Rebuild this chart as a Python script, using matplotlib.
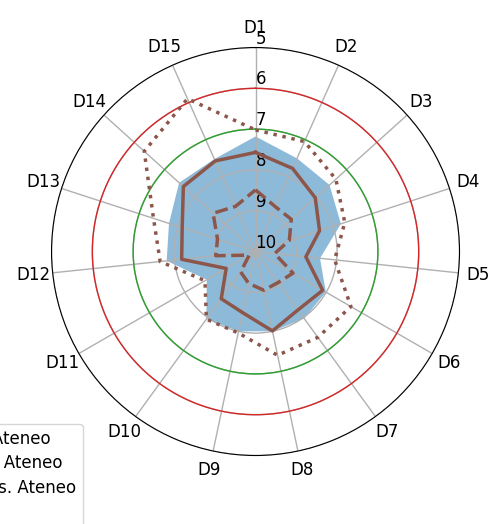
import numpy as np
import matplotlib
matplotlib.use("Agg")
import matplotlib.pyplot as plt

# dimensions, clockwise from the top
categories = [f"D{i}" for i in range(1, 16)]

# ranks (10 = centre, 5 = outer ring)
area_ateneo = [7.18, 7.50, 7.56, 7.80, 8.41, 8.01, 7.97, 8.00, 8.00, 7.95, 8.62, 7.81, 7.77, 7.48, 7.52]
mean_ateneo = [7.57, 7.77, 8.03, 8.35, 8.76, 8.10, 8.23, 8.01, 8.47, 8.57, 9.17, 8.18, 8.11, 7.62, 7.57]
target_ateneo = [8.49, 8.80, 8.82, 9.13, 9.53, 8.94, 9.06, 9.03, 9.20, 9.38, 9.82, 9.02, 9.02, 8.60, 8.79]
avg_vs_ateneo = [7.02, 7.05, 7.35, 7.70, 8.05, 7.30, 7.40, 7.40, 7.96, 7.95, 8.57, 7.65, 7.37, 6.33, 5.90]

r_ticks = [5, 6, 7, 8, 9, 10]
red_level = 6
green_level = 7

BROWN = "#8c564b"


def closed(vals):
    return list(vals) + [vals[0]]


angles = np.linspace(0, 2 * np.pi, len(categories), endpoint=False)
angles_c = closed(list(angles))

fig = plt.figure(figsize=(4.93, 5.24), dpi=100)
ax = fig.add_axes([0.1045, 0.1307, 0.8276, 0.7786], projection="polar")
ax.set_theta_zero_location("N")
ax.set_theta_direction(-1)

full = np.linspace(0, 2 * np.pi, 300)
ax.plot(full, np.full_like(full, red_level), color="tab:red", lw=1)
ax.plot(full, np.full_like(full, green_level), color="tab:green", lw=1)

fill = ax.fill(angles_c, closed(area_ateneo), color="tab:blue", alpha=0.5, lw=0)[0]
l1, = ax.plot(angles_c, closed(mean_ateneo), color=BROWN, lw=2.5, ls="-")
l2, = ax.plot(angles_c, closed(target_ateneo), color=BROWN, lw=2.5, ls="--")
l3, = ax.plot(angles_c, closed(avg_vs_ateneo), color=BROWN, lw=2.5, ls=":")

ax.set_rlim(10, 5)
ax.set_rticks(r_ticks)
ax.set_rlabel_position(0)
ax.set_xticks(angles)
ax.set_xticklabels(categories)
ax.tick_params(labelsize=12)
ax.grid(True, color="#b0b0b0", lw=1)

fig.legend([l1, l2, l3, fill],
           ["Peak Ateneo", "Target Ateneo", "Avg. vs. Ateneo", "Peers"],
           loc="upper right", bbox_to_anchor=(82.5 / 493, 1 - 423.5 / 524),
           borderaxespad=0, fontsize=12, labelspacing=0.38)

fig.savefig("out.png", dpi=100)
